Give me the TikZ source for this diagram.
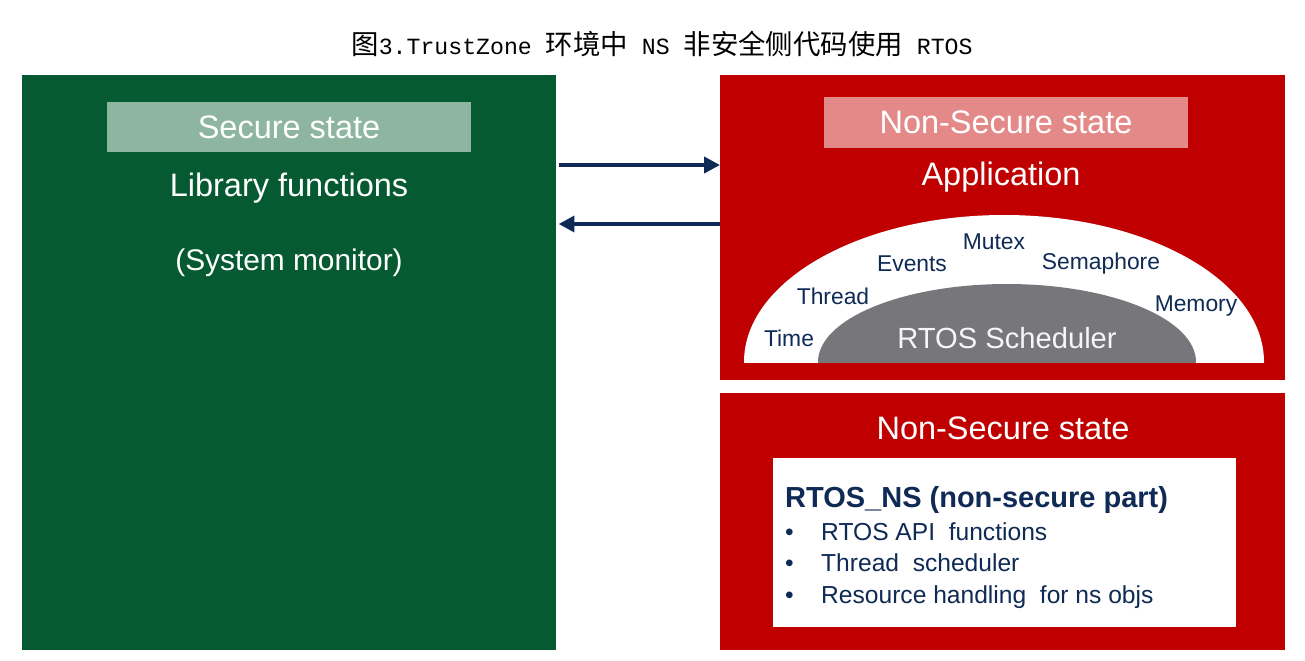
\documentclass[tikz,border=0pt]{standalone}
\usepackage{fontspec}
\setmainfont{Liberation Sans}
\newfontfamily\cjk{Noto Sans CJK SC}
\newfontfamily\titlemono{Liberation Mono}
\usetikzlibrary{arrows.meta}

\definecolor{stgreen}{HTML}{055A31}
\definecolor{taggreen}{HTML}{8DB59F}
\definecolor{stred}{HTML}{C00000}
\definecolor{tagred}{HTML}{E38A88}
\definecolor{navy}{HTML}{0F2A55}
\definecolor{schedgray}{HTML}{76767B}

\begin{document}
\begin{tikzpicture}[x=0.02cm, y=-0.02cm,
  panel/.style={rectangle, anchor=north west, inner sep=0pt},
  tag/.style={rectangle, inner sep=0pt, minimum width=7.28cm, minimum height=1cm,
              text=white, font=\fontsize{18.5}{20}\selectfont},
  big/.style={text=white, font=\fontsize{18.5}{20}\selectfont},
  obj/.style={text=navy, font=\fontsize{13}{15}\selectfont},
  item/.style={anchor=west, text=navy, text height=10pt, text depth=3pt,
               font=\fontsize{14}{16}\selectfont},
  arrow/.style={-{Triangle[length=9pt,width=9pt]}, line width=2.2pt, draw=navy}
]
\useasboundingbox (0,0) rectangle (1305,660);

% Title
\node (title) at (662,44) {\fontsize{15.6}{17}\selectfont{\cjk 图}{\titlemono\fontsize{13.2}{15}\selectfont 3.TrustZone }{\cjk 环境中}{\titlemono\fontsize{13.2}{15}\selectfont{} NS }{\cjk 非安全侧代码使用}{\titlemono\fontsize{13.2}{15}\selectfont{} RTOS}};

% Secure side
\node[panel, fill=stgreen, minimum width=10.68cm, minimum height=11.5cm] (secure) at (22,75) {};
\node[tag, fill=taggreen] (sectag) at (289,127) {Secure state};
\node[big] (lib) at (289,188) {Library functions};
\node[big, font=\fontsize{17}{19}\selectfont] (sysmon) at (289,263) {(System monitor)};

% Non-secure application
\node[panel, fill=stred, minimum width=11.3cm, minimum height=6.1cm] (nsapp) at (720,75) {};
\node[tag, fill=tagred, minimum height=1.02cm] (nstag) at (1006,122) {Non-Secure state};
\node[big] (app) at (1001,177) {Application};

% RTOS dome
\begin{scope}
  \clip (744,200) rectangle (1264,362);
  \fill[white] (1004,362) ellipse [x radius=260, y radius=147];
  \fill[schedgray] (1007,362) ellipse [x radius=189, y radius=78];
\end{scope}
\node[text=white!93!gray, font=\fontsize{16.6}{18}\selectfont] (sched) at (1007,338) {RTOS Scheduler};
\node[obj] (time) at (789,338) {Time};
\node[obj] (thread) at (833,296) {Thread};
\node[obj] (events) at (912,264) {Events};
\node[obj] (mutex) at (994,242) {Mutex};
\node[obj] (sema) at (1101,264) {Semaphore};
\node[obj] (memory) at (1196,306) {Memory};

% Non-secure RTOS part
\node[panel, fill=stred, minimum width=11.3cm, minimum height=5.14cm] (nsrtos) at (720,393) {};
\node[big] (nstag2) at (1003,428) {Non-Secure state};
\node[panel, fill=white, minimum width=9.26cm, minimum height=3.38cm] (rtosns) at (773,458) {};
\node[item, text height=12pt, font=\bfseries\fontsize{16.5}{18}\selectfont] (rtoshead) at (779,500) {RTOS\_NS (non-secure part)};
\node[item] (b1) at (779,534) {•};
\node[item] (i1) at (815,534) {RTOS API\ \ functions};
\node[item] (b2) at (779,565) {•};
\node[item] (i2) at (815,565) {Thread\ \ scheduler};
\node[item] (b3) at (779,597) {•};
\node[item] (i3) at (815,597) {Resource handling\ \ for ns objs};

% Arrows
\draw[arrow] (secure.east |- 0,165) ++(2,0) -- (nsapp.west |- 0,165);
\draw[arrow] (nsapp.west |- 0,224) -- ([xshift=0.04cm]secure.east |- 0,224);

\end{tikzpicture}
\end{document}
